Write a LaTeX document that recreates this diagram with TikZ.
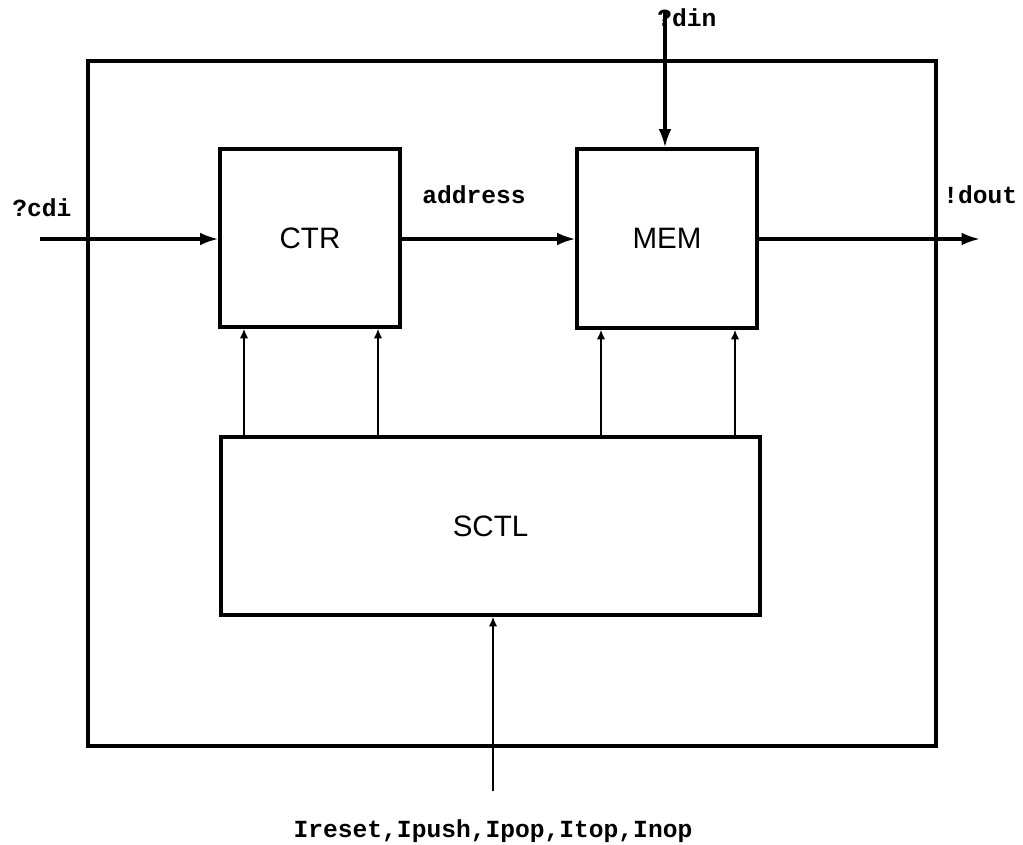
\documentclass[tikz,border=0pt]{standalone}
\usepackage{fontspec}
\setmainfont{Liberation Sans}
\setmonofont{Liberation Mono}
\usetikzlibrary{arrows.meta}

\begin{document}
\begin{tikzpicture}[x=0.025cm,y=-0.025cm]
\tikzstyle{every node}=[inner sep=0pt]
\tikzstyle{block}=[draw, line width=2.2pt, font=\fontsize{21pt}{25pt}\selectfont]
\tikzstyle{signal}=[font=\ttfamily\bfseries\fontsize{17.5pt}{21pt}\selectfont]
\tikzstyle{wire}=[line width=2.2pt, -{Latex[length=13pt,width=9pt]}]
\tikzstyle{ctlwire}=[line width=1.5pt, -{Latex[length=7pt,width=6pt]}]
\useasboundingbox (0,0) rectangle (1023,845);
\node [block, minimum width=848*0.025cm, minimum height=685*0.025cm] (stack) at (512,403.5) {};
\node [block, minimum width=180*0.025cm, minimum height=178*0.025cm] (ctr) at (310,238) {CTR};
\node [block, minimum width=180*0.025cm, minimum height=179*0.025cm] (mem) at (667,238.5) {MEM};
\node [block, minimum width=539*0.025cm, minimum height=178*0.025cm] (sctl) at (490.5,526) {SCTL};
\coordinate (cdi) at (40,239);
\coordinate (dout) at (980,239);
\coordinate (din) at (665,10);
\coordinate (cmd) at (493,791);
\draw [wire] (cdi) -- (cdi -| ctr.west);
\draw [wire] (ctr.east |- cdi) -- (mem.west |- cdi);
\draw [wire] (mem.east |- dout) -- (dout);
\draw [wire] (din) -- (din |- mem.north);
\foreach \x in {244,378} \draw [ctlwire] (\x,0 |- sctl.north) -- (\x,0 |- ctr.south);
\foreach \x in {601,735} \draw [ctlwire] (\x,0 |- sctl.north) -- (\x,0 |- mem.south);
\draw [ctlwire] (cmd) -- (cmd |- sctl.south);
\node [signal, anchor=base west] (cdilabel) at (12,217) {?cdi};
\node [signal, anchor=base west] (addrlabel) at (422,204) {address};
\node [signal, anchor=base west] (doutlabel) at (943,204) {!dout};
\node [signal, anchor=base west] (dinlabel) at (657,27) {?din};
\node [signal, anchor=base] (cmdlabel) at (493,837) {Ireset,Ipush,Ipop,Itop,Inop};
\end{tikzpicture}
\end{document}
